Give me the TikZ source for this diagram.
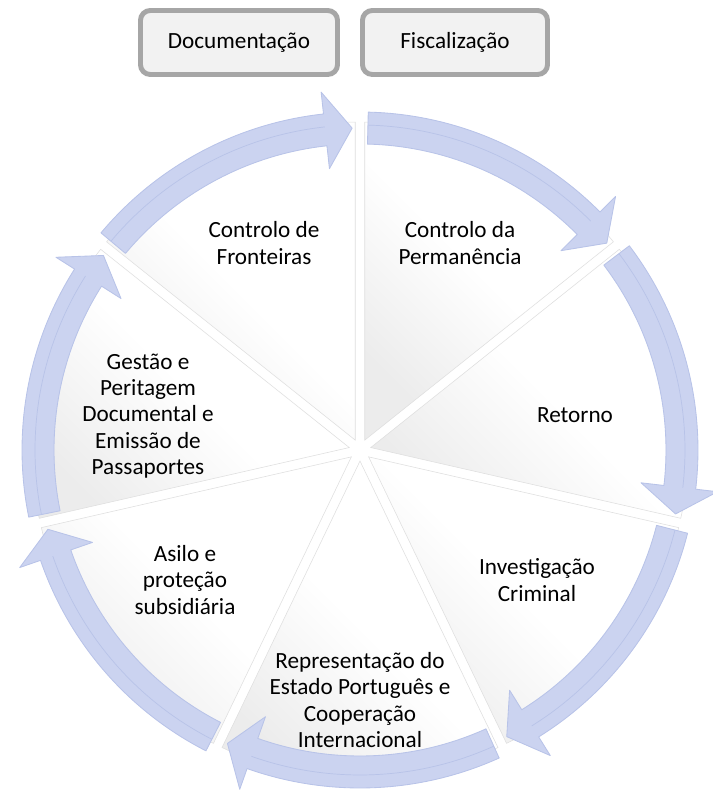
\documentclass[tikz,border=0pt]{standalone}
\usepackage{fontspec}
\setmainfont{Carlito}
\definecolor{arrowblue}{RGB}{203,211,240}
\definecolor{arrowedge}{RGB}{184,195,232}
\definecolor{boxgray}{RGB}{166,166,166}
\definecolor{boxfill}{RGB}{242,242,242}
\begin{document}
\begin{tikzpicture}[x=0.025cm,y=0.025cm,
    headbox/.style={draw=boxgray,line width=3.5pt,fill=boxfill,rounded corners=7pt,
      minimum height=1.6cm,inner sep=0pt,font=\fontsize{16.5}{18.7}\selectfont},
    segtext/.style={align=center,inner sep=0pt,font=\fontsize{16.5}{18.7}\selectfont},
    wedge/.style={draw=gray!25,line width=0.4pt,top color=gray!15,bottom color=white,
      middle color=white,shading angle=135},
    ringarrow/.style={fill=arrowblue,draw=arrowedge,line width=0.6pt,line join=round},
    ridge/.style={draw=arrowedge,line width=0.5pt}]
  \useasboundingbox (-360,-346) rectangle (352,450);
  \foreach \k in {0,...,6}{
    \pgfmathsetmacro\s{90-51.4286*\k}
    \pgfmathsetmacro\e{\s-51.4286}
    \pgfmathsetmacro\m{\s-25.7143}
    \path[wedge,shift={(\m:11)}] (0,0) -- (\s:318) arc[start angle=\s,end angle=\e,radius=318] -- cycle;
  }
  \foreach \k in {0,...,6}{
    \pgfmathsetmacro\a{90-51.4286*\k-1.4}
    \pgfmathsetmacro\t{90-51.4286*(\k+1)+1.4}
    \pgfmathsetmacro\b{\t+4.8}
    \draw[ringarrow] (\a:338) arc[start angle=\a,end angle=\b,radius=338] -- (\b:360) -- (\t:322)
      -- (\b:283) -- (\b:306) arc[start angle=\b,end angle=\a,radius=306] -- cycle;
    \draw[ridge] (\a:325) arc[start angle=\a,end angle=\b,radius=325];
  }
  \node[headbox,minimum width=4.925cm] (documentacao) at (-121,407.5) {Documentação};
  \node[headbox,minimum width=4.625cm] (fiscalizacao) at (95,407.5) {Fiscalização};
  \node[segtext] (fronteiras) at (-96,207) {Controlo de\\Fronteiras};
  \node[segtext] (permanencia) at (100,207) {Controlo da\\Permanência};
  \node[segtext] (retorno) at (215,35) {Retorno};
  \node[segtext] (investigacao) at (177,-130) {Investigação\\Criminal};
  \node[segtext] (representacao) at (0,-250) {Representação do\\Estado Português e\\Cooperação\\Internacional};
  \node[segtext] (asilo) at (-175,-130) {Asilo e\\proteção\\subsidiária};
  \node[segtext] (gestao) at (-212,34) {Gestão e\\Peritagem\\Documental e\\Emissão de\\Passaportes};
\end{tikzpicture}
\end{document}
